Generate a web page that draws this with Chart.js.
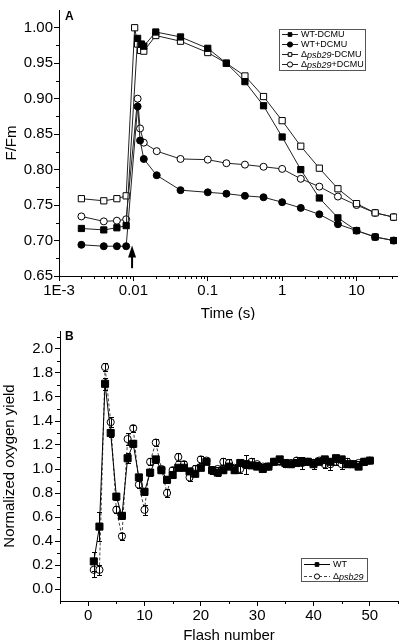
<!DOCTYPE html>
<html lang="en">

<head>
    <meta charset="UTF-8">
    <meta name="viewport" content="width=device-width, initial-scale=1.0">
    <title>F/Fm e rendimento de oxigenio</title>
    <script src="https://cdn.jsdelivr.net/npm/chart.js"></script>
    <style>
        body { margin: 0; background: #fff; }
        canvas { display: block; }
    </style>
</head>

<body>
    <canvas id="grafico1" width="400" height="320"></canvas>
    <canvas id="grafico2" width="400" height="320"></canvas>

<script>
    // ---- painel A: F/Fm x tempo ----
    var tempoWTsem = [0.002, 0.004, 0.006, 0.008, 0.0114, 0.0128, 0.0138, 0.02, 0.043, 0.1, 0.178, 0.316, 0.562, 1, 1.78, 3.16, 5.62, 10, 17.8, 31.6];
    var fmWTsem = [0.717, 0.715, 0.718, 0.721, 0.985, 0.977, 0.974, 0.994, 0.987, 0.971, 0.950, 0.924, 0.890, 0.846, 0.800, 0.760, 0.732, 0.714, 0.705, 0.700];
    var tempoPsbSem = [0.002, 0.004, 0.006, 0.008, 0.0104, 0.0114, 0.0125, 0.0138, 0.02, 0.043, 0.1, 0.178, 0.316, 0.562, 1, 1.78, 3.16, 5.62, 10, 17.8, 31.6];
    var fmPsbSem = [0.759, 0.756, 0.759, 0.763, 1.000, 0.977, 0.968, 0.967, 0.989, 0.981, 0.965, 0.950, 0.932, 0.903, 0.869, 0.833, 0.802, 0.773, 0.752, 0.739, 0.733];
    var tempoCom = [0.002, 0.004, 0.006, 0.008, 0.0114, 0.0123, 0.0138, 0.0206, 0.043, 0.1, 0.178, 0.316, 0.562, 1, 1.78, 3.16, 5.62, 10, 17.8, 31.6];
    var fmWTcom = [0.694, 0.692, 0.692, 0.692, 0.889, 0.841, 0.815, 0.792, 0.771, 0.768, 0.766, 0.763, 0.761, 0.754, 0.746, 0.737, 0.723, 0.714, 0.705, 0.700];
    var fmPsbCom = [0.734, 0.727, 0.728, 0.730, 0.900, 0.858, 0.838, 0.826, 0.815, 0.814, 0.809, 0.807, 0.804, 0.801, 0.787, 0.776, 0.762, 0.750, 0.739, 0.733];

    var ticksTempo = [0.001, 0.01, 0.1, 1, 10];
    var rotulosTempo = ['1E-3', '0.01', '0.1', '1', '10'];
    var menoresTempo = [0.002, 0.003, 0.004, 0.005, 0.006, 0.007, 0.008, 0.009,
        0.02, 0.03, 0.04, 0.05, 0.06, 0.07, 0.08, 0.09,
        0.2, 0.3, 0.4, 0.5, 0.6, 0.7, 0.8, 0.9,
        2, 3, 4, 5, 6, 7, 8, 9, 20, 30];
    var ticksFm = [0.65, 0.70, 0.75, 0.80, 0.85, 0.90, 0.95, 1.00];
    var menoresFm = [0.675, 0.725, 0.775, 0.825, 0.875, 0.925, 0.975];

    var legendaA = [
        [{ t: 'WT-DCMU' }],
        [{ t: 'WT+DCMU' }],
        [{ t: 'Δ' }, { t: 'psb29', i: true }, { t: '-DCMU' }],
        [{ t: 'Δ' }, { t: 'psb29', i: true }, { t: '+DCMU' }]
    ];

    // ---- painel B: rendimento de oxigenio x flash ----
    var flashes = [1, 2, 3, 4, 5, 6, 7, 8, 9, 10, 11, 12, 13, 14, 15, 16, 17, 18, 19, 20,
        21, 22, 23, 24, 25, 26, 27, 28, 29, 30, 31, 32, 33, 34, 35, 36, 37, 38, 39, 40,
        41, 42, 43, 44, 45, 46, 47, 48, 49, 50];
    var rendWT = [0.23, 0.52, 1.71, 1.30, 0.77, 0.61, 1.09, 1.21, 0.93, 0.81,
        0.97, 1.08, 0.99, 0.91, 0.95, 1.01, 1.01, 0.98, 0.96, 1.01,
        1.06, 0.99, 0.97, 0.99, 1.02, 0.99, 1.05, 1.04, 1.03, 1.02,
        1.00, 1.02, 1.06, 1.08, 1.05, 1.04, 1.05, 1.06, 1.06, 1.04,
        1.06, 1.08, 1.06, 1.09, 1.08, 1.04, 1.04, 1.02, 1.06, 1.07];
    var erroWT = [0.08, 0.12, 0.05, 0.03, 0.03, 0.03, 0.04, 0.03, 0.03, 0.03,
        0.03, 0.03, 0.02, 0.03, 0.02, 0.02, 0.02, 0.02, 0.02, 0.02,
        0.02, 0.02, 0.03, 0.02, 0.02, 0.02, 0.02, 0.03, 0.02, 0.02,
        0.02, 0.02, 0.02, 0.02, 0.02, 0.02, 0.02, 0.03, 0.02, 0.04,
        0.02, 0.03, 0.02, 0.03, 0.03, 0.02, 0.02, 0.02, 0.02, 0.02];
    var rendPsb = [0.16, 0.16, 1.85, 1.39, 0.66, 0.44, 1.25, 1.34, 0.87, 0.66,
        1.06, 1.22, 1.00, 0.80, 0.99, 1.10, 1.04, 0.93, 1.00, 1.08,
        1.07, 0.99, 1.00, 1.06, 1.05, 1.01, 1.00, 1.04, 1.06, 1.04,
        1.02, 1.02, 1.06, 1.06, 1.04, 1.05, 1.07, 1.05, 1.06, 1.05,
        1.07, 1.04, 1.04, 1.06, 1.04, 1.06, 1.04, 1.05, 1.06, 1.07];
    var erroPsb = [0.06, 0.04, 0.03, 0.04, 0.03, 0.03, 0.05, 0.03, 0.03, 0.04,
        0.03, 0.03, 0.02, 0.03, 0.03, 0.03, 0.03, 0.03, 0.03, 0.03,
        0.02, 0.03, 0.02, 0.03, 0.03, 0.02, 0.03, 0.08, 0.03, 0.02,
        0.02, 0.02, 0.02, 0.02, 0.02, 0.02, 0.03, 0.05, 0.02, 0.02,
        0.02, 0.03, 0.05, 0.03, 0.04, 0.03, 0.02, 0.02, 0.03, 0.02];

    var ticksFlash = [0, 10, 20, 30, 40, 50];
    var menoresFlash = [-5, 5, 15, 25, 35, 45, 55];
    var ticksRend = [0.0, 0.2, 0.4, 0.6, 0.8, 1.0, 1.2, 1.4, 1.6, 1.8, 2.0];
    var menoresRend = [0.1, 0.3, 0.5, 0.7, 0.9, 1.1, 1.3, 1.5, 1.7, 1.9, 2.1];

    var legendaB = [
        [{ t: 'WT' }],
        [{ t: 'Δ' }, { t: 'psb29', i: true }]
    ];

    var FONTE = '"Liberation Sans", Arial, Helvetica, sans-serif';
    Chart.defaults.font.family = FONTE;
    Chart.defaults.color = '#000';

    var ctx1 = document.getElementById('grafico1');
    var ctx2 = document.getElementById('grafico2');

    function junta(xs, ys) {
        return xs.map(function (x, i) { return { x: x, y: ys[i] }; });
    }

    // tiques menores (mais curtos) desenhados pela escala
    function criaTiques(menX, menY) {
        return {
            id: 'tiquesMenores',
            afterDraw(chart) {
                var c = chart.ctx, a = chart.chartArea;
                var sx = chart.scales.x, sy = chart.scales.y;
                c.save();
                c.strokeStyle = '#000';
                c.lineWidth = 1;
                c.beginPath();
                menX.forEach(function (v) {
                    var px = Math.round(sx.getPixelForValue(v)) + 0.5;
                    c.moveTo(px, a.bottom);
                    c.lineTo(px, a.bottom + 3);
                });
                menY.forEach(function (v) {
                    var py = Math.round(sy.getPixelForValue(v)) + 0.5;
                    c.moveTo(a.left, py);
                    c.lineTo(a.left - 3, py);
                });
                c.stroke();
                c.restore();
            }
        };
    }

    function criaLegenda(itens, cx) {
        return {
            id: 'legendaCaixa',
            afterDraw(chart) {
                var c = chart.ctx;
                c.save();
                c.strokeStyle = '#555';
                c.lineWidth = 1;
                c.strokeRect(cx.x + 0.5, cx.y + 0.5, cx.w, cx.h);
                itens.forEach(function (partes, i) {
                    var ds = chart.data.datasets[i];
                    var yy = cx.y + cx.primeira + i * cx.passo;
                    c.strokeStyle = ds.borderColor;
                    c.setLineDash(ds.borderDash || []);
                    c.beginPath();
                    c.moveTo(cx.x + 3, yy + 0.5);
                    c.lineTo(cx.x + cx.amostra, yy + 0.5);
                    c.stroke();
                    c.setLineDash([]);
                    c.fillStyle = ds.pointBackgroundColor;
                    c.strokeStyle = '#000';
                    c.lineWidth = 1;
                    Chart.helpers.drawPoint(c, { pointStyle: ds.pointStyle, radius: cx.raio, borderWidth: 1, rotation: 0 },
                        cx.x + 3 + (cx.amostra - 3) / 2, yy + 0.5);
                    var px = cx.x + cx.amostra + 3;
                    c.fillStyle = '#000';
                    c.textBaseline = 'middle';
                    c.textAlign = 'left';
                    partes.forEach(function (p) {
                        c.font = (p.i ? 'italic ' : '') + cx.fonte + 'px ' + FONTE;
                        c.fillText(p.t, px, yy + 1);
                        px += c.measureText(p.t).width;
                    });
                });
                c.restore();
            }
        };
    }

    function criaLetra(letra) {
        return {
            id: 'letraPainel',
            afterDraw(chart) {
                var c = chart.ctx;
                c.save();
                c.font = 'bold 12px ' + FONTE;
                c.fillStyle = '#000';
                c.textAlign = 'left';
                c.textBaseline = 'alphabetic';
                c.fillText(letra, 65, 20);
                c.restore();
            }
        };
    }

    // seta que marca o flash
    var setaFlash = {
        id: 'setaFlash',
        afterDraw(chart) {
            var c = chart.ctx;
            var px = chart.scales.x.getPixelForValue(0.0096);
            var yBase = chart.scales.y.getPixelForValue(0.661);
            var yPonta = chart.scales.y.getPixelForValue(0.693);
            c.save();
            c.strokeStyle = '#000';
            c.fillStyle = '#000';
            c.lineWidth = 2;
            c.beginPath();
            c.moveTo(px, yBase);
            c.lineTo(px, yPonta + 8);
            c.stroke();
            c.beginPath();
            c.moveTo(px, yPonta);
            c.lineTo(px - 4, yPonta + 12);
            c.lineTo(px + 4, yPonta + 12);
            c.closePath();
            c.fill();
            c.restore();
        }
    };

    function criaErros(listas) {
        return {
            id: 'barrasErro',
            afterDatasetsDraw(chart) {
                var c = chart.ctx;
                var sx = chart.scales.x, sy = chart.scales.y;
                c.save();
                c.strokeStyle = '#000';
                c.lineWidth = 1;
                listas.forEach(function (erros, k) {
                    chart.data.datasets[k].data.forEach(function (p, i) {
                        var px = Math.round(sx.getPixelForValue(p.x)) + 0.5;
                        var y1 = Math.round(sy.getPixelForValue(p.y + erros[i])) + 0.5;
                        var y2 = Math.round(sy.getPixelForValue(p.y - erros[i])) + 0.5;
                        c.beginPath();
                        c.moveTo(px, y1); c.lineTo(px, y2);
                        c.moveTo(px - 2.5, y1); c.lineTo(px + 2.5, y1);
                        c.moveTo(px - 2.5, y2); c.lineTo(px + 2.5, y2);
                        c.stroke();
                    });
                });
                c.restore();
            }
        };
    }

    function fixaTicks(lista) {
        return function (s) {
            s.ticks = lista.map(function (v) { return { value: v }; });
        };
    }

    new Chart(ctx1, {
        type: 'line',
        data: {
            datasets: [{
                label: 'WT-DCMU',
                data: junta(tempoWTsem, fmWTsem),
                borderColor: '#222', borderWidth: 1,
                pointStyle: 'rect', pointRadius: 4.4,
                pointBackgroundColor: '#000', pointBorderColor: '#000', pointBorderWidth: 1
            }, {
                label: 'WT+DCMU',
                data: junta(tempoCom, fmWTcom),
                borderColor: '#222', borderWidth: 1,
                pointStyle: 'circle', pointRadius: 3.5,
                pointBackgroundColor: '#000', pointBorderColor: '#000', pointBorderWidth: 1
            }, {
                label: 'Δpsb29-DCMU',
                data: junta(tempoPsbSem, fmPsbSem),
                borderColor: '#222', borderWidth: 1,
                pointStyle: 'rect', pointRadius: 4.4,
                pointBackgroundColor: '#fff', pointBorderColor: '#000', pointBorderWidth: 1
            }, {
                label: 'Δpsb29+DCMU',
                data: junta(tempoCom, fmPsbCom),
                borderColor: '#222', borderWidth: 1,
                pointStyle: 'circle', pointRadius: 3.5,
                pointBackgroundColor: '#fff', pointBorderColor: '#000', pointBorderWidth: 1
            }]
        },
        options: {
            responsive: false,
            animation: false,
            devicePixelRatio: 1,
            layout: { autoPadding: false, padding: { top: 3, right: 3, left: 0, bottom: 0 } },
            plugins: { legend: { display: false }, tooltip: { enabled: false } },
            scales: {
                x: {
                    type: 'logarithmic',
                    min: 0.001, max: 35,
                    afterBuildTicks: fixaTicks(ticksTempo),
                    afterFit: function (s) { s.height = 44; },
                    ticks: {
                        callback: function (v, i) { return rotulosTempo[i]; },
                        font: { size: 15 }, padding: 1, maxRotation: 0, autoSkip: false
                    },
                    grid: { drawOnChartArea: false, tickLength: 5, color: '#000' },
                    border: { color: '#000' },
                    title: { display: true, text: 'Time (s)', font: { size: 15, lineHeight: 1 }, padding: { top: 0, bottom: -1 } }
                },
                y: {
                    min: 0.65, max: 1.025,
                    afterBuildTicks: fixaTicks(ticksFm),
                    afterFit: function (s) { s.width = 59; },
                    ticks: {
                        callback: function (v) { return v.toFixed(2); },
                        font: { size: 15 }, padding: 1
                    },
                    grid: { drawOnChartArea: false, tickLength: 5, color: '#000' },
                    border: { color: '#000' },
                    title: { display: true, text: 'F/Fm', font: { size: 15 }, padding: { top: 3, bottom: 0 } }
                }
            }
        },
        plugins: [criaTiques(menoresTempo, menoresFm),
            criaLegenda(legendaA, { x: 279, y: 29, w: 86, h: 41, primeira: 5, passo: 10, amostra: 19, raio: 2.6, fonte: 9 }),
            criaLetra('A'), setaFlash]
    });

    new Chart(ctx2, {
        type: 'line',
        data: {
            datasets: [{
                label: 'WT',
                data: junta(flashes, rendWT),
                borderColor: '#000', borderWidth: 1,
                pointStyle: 'rect', pointRadius: 5,
                pointBackgroundColor: '#000', pointBorderColor: '#000', pointBorderWidth: 1
            }, {
                label: 'Δpsb29',
                data: junta(flashes, rendPsb),
                borderColor: '#444', borderWidth: 1, borderDash: [3, 2],
                pointStyle: 'circle', pointRadius: 3.6,
                pointBackgroundColor: '#fff', pointBorderColor: '#000', pointBorderWidth: 1
            }]
        },
        options: {
            responsive: false,
            animation: false,
            devicePixelRatio: 1,
            layout: { autoPadding: false, padding: { top: 3, right: 2, left: 0, bottom: 0 } },
            plugins: { legend: { display: false }, tooltip: { enabled: false } },
            scales: {
                x: {
                    type: 'linear',
                    min: -5, max: 55,
                    afterBuildTicks: fixaTicks(ticksFlash),
                    afterFit: function (s) { s.height = 39; },
                    ticks: { font: { size: 15 }, padding: 1, maxRotation: 0, autoSkip: false },
                    grid: { drawOnChartArea: false, tickLength: 5, color: '#000' },
                    border: { color: '#000' },
                    title: { display: true, text: 'Flash number', font: { size: 15, lineHeight: 1 }, padding: { top: 0, bottom: -3 } }
                },
                y: {
                    min: -0.1, max: 2.15,
                    afterBuildTicks: fixaTicks(ticksRend),
                    afterFit: function (s) { s.width = 60; },
                    ticks: {
                        callback: function (v) { return v.toFixed(1); },
                        font: { size: 15 }, padding: 2
                    },
                    grid: { drawOnChartArea: false, tickLength: 5, color: '#000' },
                    border: { color: '#000' },
                    title: { display: true, text: 'Normalized oxygen yield', font: { size: 15 }, padding: { top: 1, bottom: 0 } }
                }
            }
        },
        plugins: [criaTiques(menoresFlash, menoresRend),
            criaErros([erroWT, erroPsb]),
            criaLegenda(legendaB, { x: 301, y: 238, w: 66, h: 23, primeira: 6, passo: 12, amostra: 29, raio: 2.6, fonte: 9 }),
            criaLetra('B')]
    });
</script>
</body>

</html>
